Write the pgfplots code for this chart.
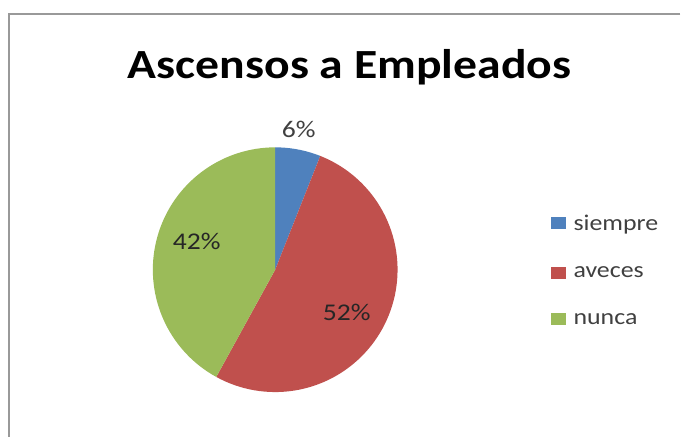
\documentclass[border=0pt]{standalone}
\usepackage{pgfplots}
\pgfplotsset{compat=1.18}
\usepackage{fontspec}
\setmainfont{Carlito}[FakeStretch=1.15]
\definecolor{cSiempre}{HTML}{4F81BD}
\definecolor{cAveces}{HTML}{C0504D}
\definecolor{cNunca}{HTML}{9BBB59}
\definecolor{labgray}{HTML}{404040}
\begin{document}
\begin{tikzpicture}
% porcentajes
\def\vSiempre{6}
\def\vAveces{52}
\def\vNunca{42}
\pgfmathsetmacro\aA{90}
\pgfmathsetmacro\aB{\aA-3.6*\vSiempre}
\pgfmathsetmacro\aC{\aB-3.6*\vAveces}
\pgfmathsetmacro\aD{\aC-3.6*\vNunca}
\def\cx{275.5}
\def\cy{167}
\def\pr{122.5}
\begin{axis}[
  width=681pt, height=437pt, scale only axis,
  xmin=0, xmax=681, ymin=0, ymax=437,
  hide axis, clip=false,
  legend image code/.code={\fill[#1] (0pt,-6pt) rectangle (15pt,6pt);},
  legend style={at={(axis cs:551,224)}, anchor=north west, draw=none, fill=none,
    font=\fontsize{22.5}{22.5}\selectfont\color{labgray}, row sep=30.5pt,
    column sep=6pt, cells={anchor=west}, inner sep=0pt},
]
\addplot[fill=cSiempre, draw=none, domain=\aB:\aA, samples=10]
  ({\cx+\pr*cos(x)},{\cy+\pr*sin(x)}) -- (axis cs:\cx,\cy) -- cycle;
\addlegendentry{siempre}
\addplot[fill=cAveces, draw=none, domain=\aC:\aB, samples=80]
  ({\cx+\pr*cos(x)},{\cy+\pr*sin(x)}) -- (axis cs:\cx,\cy) -- cycle;
\addlegendentry{aveces}
\addplot[fill=cNunca, draw=none, domain=\aD:\aC, samples=70]
  ({\cx+\pr*cos(x)},{\cy+\pr*sin(x)}) -- (axis cs:\cx,\cy) -- cycle;
\addlegendentry{nunca}
% etiquetas
\node[font=\fontsize{24}{24}\selectfont, text=labgray] at (axis cs:299,307) {6\%};
\node[font=\fontsize{24}{24}\selectfont, text=black!85] at (axis cs:197,195) {42\%};
\node[font=\fontsize{24}{24}\selectfont, text=black!85] at (axis cs:347,124) {52\%};
% titulo
\node[font=\fontsize{41.5}{41.5}\selectfont\bfseries, anchor=base] at (axis cs:350,358) {Ascensos a Empleados};
% marco
\draw[gray!80, line width=1.5pt] (axis cs:681,423) -- (axis cs:9,423) -- (axis cs:9,0);
\path (axis cs:0,0) rectangle (axis cs:681,437);
\end{axis}
\end{tikzpicture}
\end{document}
